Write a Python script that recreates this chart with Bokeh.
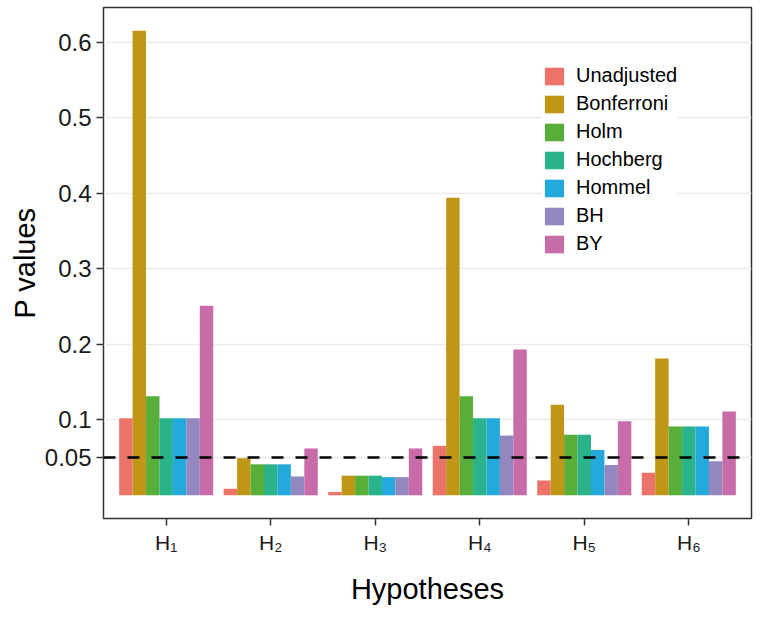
from bokeh.plotting import figure
from bokeh.models import Range1d, FixedTicker, Span, Legend, LegendItem, CustomJSTickFormatter
from bokeh.embed import file_html
from bokeh.resources import INLINE

hypotheses = ["H\u2081", "H\u2082", "H\u2083", "H\u2084", "H\u2085", "H\u2086"]
methods = ["Unadjusted", "Bonferroni", "Holm", "Hochberg", "Hommel", "BH", "BY"]
unadjusted = [0.102, 0.0086, 0.0043, 0.0655, 0.0195, 0.030]
bonferroni = [0.615, 0.049, 0.026, 0.394, 0.120, 0.181]
holm = [0.131, 0.041, 0.026, 0.131, 0.080, 0.091]
hochberg = [0.102, 0.041, 0.026, 0.102, 0.080, 0.091]
hommel = [0.102, 0.041, 0.024, 0.102, 0.060, 0.091]
bh = [0.102, 0.025, 0.024, 0.079, 0.040, 0.045]
by = [0.251, 0.062, 0.062, 0.193, 0.098, 0.111]
colors = ["#EB7369", "#BF9616", "#57AE38", "#2AB28B", "#23A9DC", "#9487C0", "#C76CA8"]
y_ticks = [0.05, 0.1, 0.2, 0.3, 0.4, 0.5, 0.6]
threshold = 0.05

series = [unadjusted, bonferroni, holm, hochberg, hommel, bh, by]
FONT = "Liberation Sans"

p = figure(width=760, height=608,
           x_range=Range1d(0.4, 6.6), y_range=Range1d(-0.0307, 0.6457),
           output_backend="svg", toolbar_location=None,
           min_border_left=103, min_border_right=9, min_border_top=7, min_border_bottom=90)

p.background_fill_color = "white"
p.border_fill_color = "white"
p.outline_line_color = "#333333"
p.outline_line_width = 1.5

p.xgrid.visible = False
p.ygrid.ticker = FixedTicker(ticks=y_ticks)
p.ygrid.grid_line_color = "#EBEBEB"
p.ygrid.grid_line_width = 1.5

n = len(methods)
bw = 0.9 / n
items = []
for j, (name, vals, col) in enumerate(zip(methods, series, colors)):
    xs = [i + 1 + (j - (n - 1) / 2) * bw for i in range(len(hypotheses))]
    r = p.vbar(x=xs, top=vals, bottom=0, width=bw, fill_color=col, line_color=None)
    items.append(LegendItem(label=name, renderers=[r]))

span = Span(location=threshold, dimension="width", line_color="black",
            line_width=2.5, line_dash="12 12")
p.add_layout(span)

# axes
for ax in (p.xaxis[0], p.yaxis[0]):
    ax.axis_line_color = None
    ax.major_tick_line_color = "#333333"
    ax.major_tick_line_width = 1.5
    ax.major_tick_in = 0
    ax.major_tick_out = 7
    ax.minor_tick_line_color = None
    ax.major_label_text_font = FONT
    ax.major_label_text_color = "#1A1A1A"
    ax.major_label_text_font_size = "24px"
    ax.axis_label_text_font = FONT
    ax.axis_label_text_font_style = "normal"
    ax.axis_label_text_color = "black"
    ax.axis_label_text_font_size = "29px"

p.xaxis.ticker = FixedTicker(ticks=list(range(1, len(hypotheses) + 1)))
p.xaxis.major_label_overrides = {i + 1: h for i, h in enumerate(hypotheses)}
p.xaxis.major_label_text_font_size = "21px"
p.xaxis.axis_label = "Hypotheses"
p.xaxis.major_label_standoff = 5
p.xaxis.axis_label_standoff = 16

p.yaxis.ticker = FixedTicker(ticks=y_ticks)
p.yaxis.formatter = CustomJSTickFormatter(code="return tick.toString();")
p.yaxis.axis_label = "P values"
p.yaxis.major_label_standoff = 5
p.yaxis.axis_label_standoff = 1

legend = Legend(items=items, location=(439, 263))
legend.border_line_color = None
legend.background_fill_color = "white"
legend.background_fill_alpha = 1.0
legend.padding = 3
legend.margin = 0
legend.spacing = 5
legend.glyph_width = 24
legend.glyph_height = 22
legend.label_height = 22
legend.label_standoff = 10
legend.label_text_font = FONT
legend.label_text_font_size = "20px"
legend.label_text_color = "black"
p.add_layout(legend)

open("out.html", "w").write(file_html(p, INLINE))
